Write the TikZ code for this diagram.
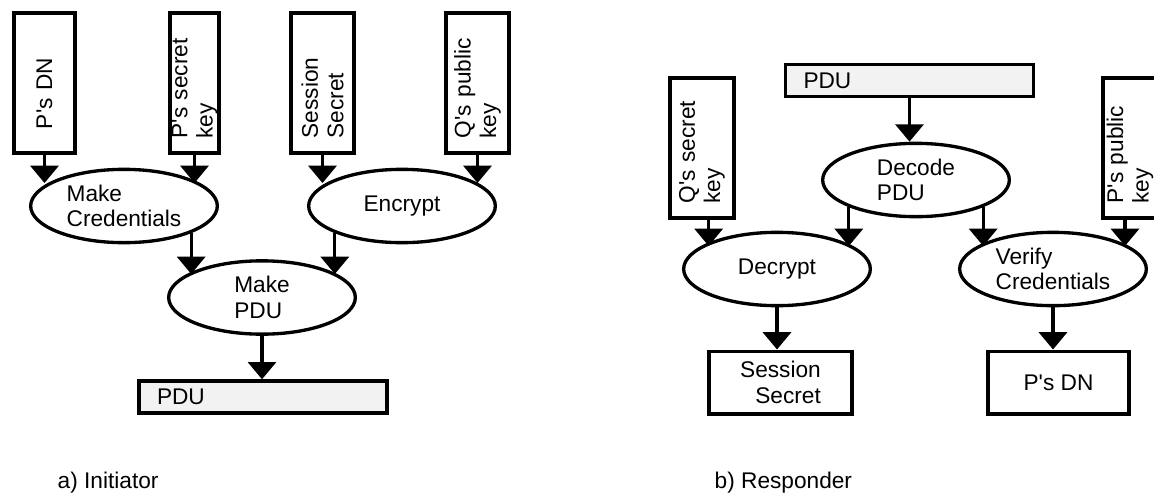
\documentclass[tikz,border=0pt]{standalone}
\usepackage{fontspec}
\setmainfont{Liberation Sans}
\usetikzlibrary{arrows.meta, shapes.geometric}

\newcommand{\ap}{\textquotesingle}

\tikzset{
  every node/.style={font=\fontsize{17pt}{19pt}\selectfont},
  keybox/.style={draw, line width=2.5pt, rotate=90, minimum width=105pt,
    inner xsep=11pt, inner ysep=0pt, text width=83pt, align=left},
  proc/.style={draw, ellipse, line width=2.5pt, fill=white,
    minimum width=140pt, minimum height=55pt, inner sep=0pt, align=left},
  pdubar/.style={draw, line width=2.5pt, fill=black!5, minimum height=24pt,
    inner xsep=13.5pt, inner ysep=0pt, text width=159pt, align=left},
  outbox/.style={draw, line width=2.5pt, minimum height=47pt, inner sep=0pt},
  flow/.style={line width=2.5pt, -{Triangle[width=21pt, length=13pt]}}
}

\begin{document}
\begin{tikzpicture}[x=0.75pt, y=-0.75pt]
\useasboundingbox (0, 0) rectangle (1154, 493);
% tip rows
\coordinate (rowA) at (0, 183);
\coordinate (rowB) at (0, 274);
\coordinate (rowC) at (0, 246);
% a) the initiator
\node [keybox, minimum height=45.75pt, inner xsep=18pt, text width=69pt]
  (pdn) at (44.5, 83) {P\ap s DN};
\node [keybox, minimum height=36.75pt] (psk) at (194.5, 83) {P\ap s secret\\key};
\node [keybox, minimum height=47.25pt] (ses) at (322.5, 83) {Session\\Secret};
\node [keybox, minimum height=47.25pt] (qpk) at (477.5, 83) {Q\ap s public\\key};
\node [proc] (mc) at (124, 206) {Make\\Credentials};
\node [proc] (enc) at (402, 206) {Encrypt};
\node [proc] (mp) at (262, 297.5) {Make\\PDU};
\node [pdubar] (lpdu) at (263, 397) {PDU};
\draw [flow] (pdn.west) -- (pdn.west |- rowA);
\draw [flow] (psk.west) -- (psk.west |- rowA);
\draw [flow] (ses.west) -- (ses.west |- rowA);
\draw [flow] (qpk.west) -- (qpk.west |- rowA);
\draw [flow] (mc.south east) -- (mc.south east |- rowB);
\draw [flow] (enc.south west) -- (enc.south west |- rowB);
\draw [flow] (mp.south) -- (mp.south |- lpdu.north);
\node [anchor=base west] (capa) at (53, 488) {a) Initiator};
% b) the responder
\node [pdubar] (rpdu) at (909.5, 80.5) {PDU};
\node [keybox, minimum height=48pt] (qsk) at (702, 148) {Q\ap s secret\\key};
\node [keybox, minimum height=40.5pt] (ppk) at (1130, 148) {P\ap s public\\key};
\node [proc] (dec) at (916, 180) {Decode\\PDU};
\node [proc] (dcr) at (777, 269) {Decrypt};
\node [proc] (ver) at (1053, 269) {Verify\\Credentials};
\node [outbox, minimum width=107.25pt, align=right] (ss) at (780.5, 382.5)
  {Session\\Secret};
\node [outbox, minimum width=105.75pt] (dn) at (1058.5, 382.5) {P\ap s DN};
\draw [flow] (rpdu.south) -- (rpdu.south |- dec.north);
\draw [flow] ([xshift=5pt]qsk.west) -- ([xshift=5pt]qsk.west |- rowC);
\draw [flow] (dec.south west) -- (dec.south west |- rowC);
\draw [flow] (dec.south east) -- (dec.south east |- rowC);
\draw [flow] ([xshift=-3.75pt]ppk.west) -- ([xshift=-3.75pt]ppk.west |- rowC);
\draw [flow] (dcr.south) -- (dcr.south |- ss.north);
\draw [flow] (ver.south) -- (ver.south |- dn.north);
\node [anchor=base west] (capb) at (710, 488) {b) Responder};
\end{tikzpicture}
\end{document}
